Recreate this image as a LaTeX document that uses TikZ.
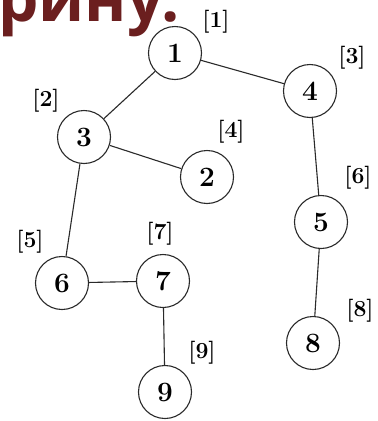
\documentclass[tikz,border=0pt]{standalone}
\usepackage{fontspec}
\newfontfamily\headfont{Open Sans}
\definecolor{headred}{HTML}{6B1F1F}
\definecolor{inkgray}{HTML}{2A2A2A}
\begin{document}
\begin{tikzpicture}[x=1pt,y=-1pt,
  vertex/.style={circle,draw=inkgray,line width=1.1pt,minimum size=53pt,inner sep=0pt,
                 font=\fontsize{28}{30}\selectfont\bfseries},
  tag/.style={inner sep=0pt,font=\fontsize{23}{25}\selectfont\bfseries},
  edge/.style={draw=inkgray,line width=1.1pt}]
\useasboundingbox (0,0) rectangle (378,421);
\clip (0,0) rectangle (378,421);
\fill[white] (0,0) rectangle (378,421);

% heading fragment
\node[anchor=base west,inner sep=0pt,text=headred,
      font=\headfont\fontsize{64}{70}\selectfont\bfseries] (head) at (-2,21) {рину.};

% vertices
\node[vertex] (n1) at (175,53) {1};
\node[vertex] (n4) at (310,91) {4};
\node[vertex] (n3) at (84,137) {3};
\node[vertex] (n2) at (207,177) {2};
\node[vertex] (n5) at (321,222) {5};
\node[vertex] (n6) at (62,283) {6};
\node[vertex] (n7) at (163,281) {7};
\node[vertex] (n8) at (313,343) {8};
\node[vertex] (n9) at (165,392) {9};

% visiting order labels
\node[tag] (t1) at (216,22) {[1]};
\node[tag] (t2) at (46,101) {[2]};
\node[tag] (t3) at (352,58) {[3]};
\node[tag] (t4) at (231,132) {[4]};
\node[tag] (t5) at (30,242) {[5]};
\node[tag] (t6) at (358,178) {[6]};
\node[tag] (t7) at (160,234) {[7]};
\node[tag] (t8) at (360,311) {[8]};
\node[tag] (t9) at (202,353) {[9]};

% edges
\draw[edge] (n1) -- (n4);
\draw[edge] (n1) -- (n3);
\draw[edge] (n3) -- (n2);
\draw[edge] (n3) -- (n6);
\draw[edge] (n4) -- (n5);
\draw[edge] (n5) -- (n8);
\draw[edge] (n6) -- (n7);
\draw[edge] (n7) -- (n9);
\end{tikzpicture}
\end{document}
